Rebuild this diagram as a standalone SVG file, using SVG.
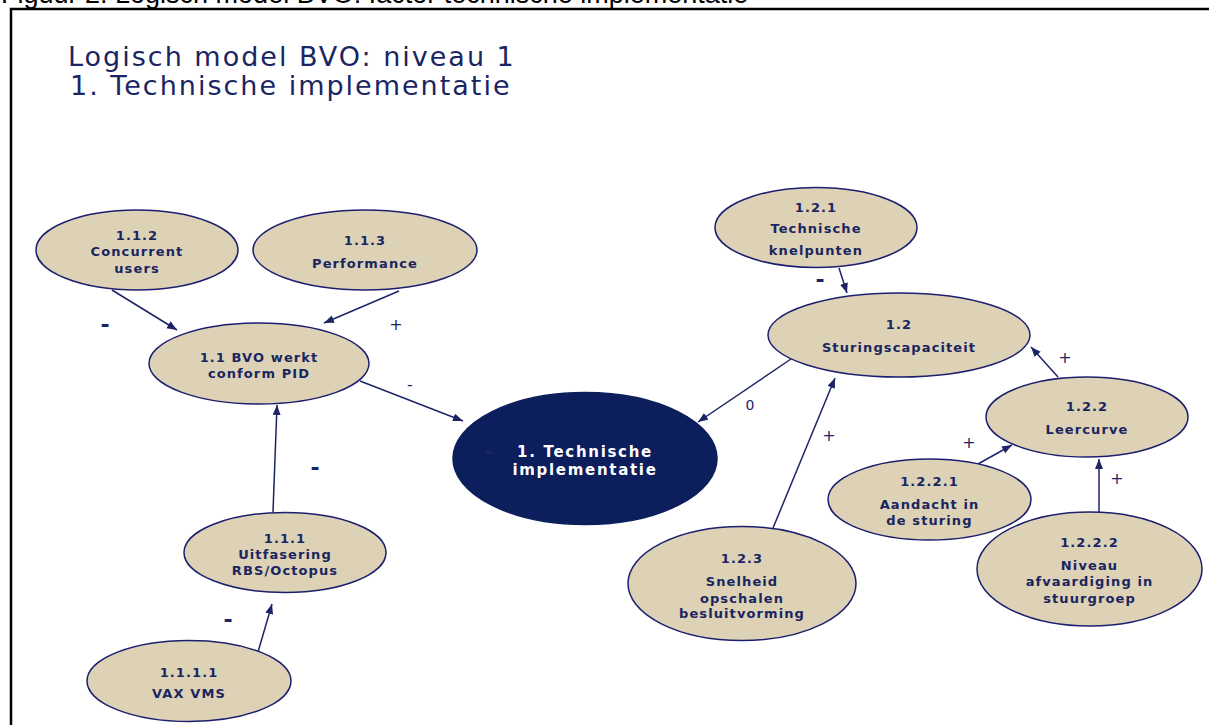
<svg xmlns="http://www.w3.org/2000/svg" width="1209" height="725" viewBox="0 0 1209 725">
  <style>
    .frame { fill: none; stroke: #000; stroke-width: 2.5; }
    .caption { font-family: "Liberation Sans", Arial, sans-serif; font-size: 27px; fill: #000; }
    .title { font-family: "DejaVu Sans", Verdana, sans-serif; font-size: 27px; fill: #1a2563; letter-spacing: 2px; }
    .node ellipse { fill: #ddd2b6; stroke: #1c1f6e; stroke-width: 1.5; }
    .node text { font-family: "DejaVu Sans", Verdana, sans-serif; font-weight: bold; font-size: 13px; fill: #1a2560; text-anchor: middle; letter-spacing: 1.1px; }
    #n1 ellipse { fill: #0c1f5c; stroke: #0c1f5c; }
    #n1 text { fill: #ffffff; font-size: 15px; letter-spacing: 1.7px; }
    .edge { stroke: #1c2466; stroke-width: 1.5; fill: none; marker-end: url(#arrow); }
    .sign { font-family: "DejaVu Sans", Verdana, sans-serif; fill: #1a2563; text-anchor: middle; }
    .minus-b { font-weight: bold; font-size: 22px; }
    .minus { font-size: 16px; }
    .plus { font-size: 16px; }
  </style>
  <defs>
    <marker id="arrow" markerWidth="11" markerHeight="9" refX="10" refY="4" orient="auto" markerUnits="userSpaceOnUse">
      <path d="M0,0 L10,4 L0,8 z" fill="#1c2466"/>
    </marker>
  </defs>

  <rect width="1209" height="725" fill="#ffffff"/>

  <!-- page caption (runs off the top edge) and frame -->
  <text class="caption" x="1" y="3">Figuur 2: Logisch model BVO: factor technische implementatie</text>
  <path class="frame" d="M11,725 L11,9 L1212,9"/>

  <!-- heading -->
  <text class="title" x="68" y="66">Logisch model BVO: niveau 1</text>
  <text class="title" x="70" y="95">1. Technische implementatie</text>

  <!-- connectors -->
  <g id="connectors">
    <line class="edge" x1="112" y1="290" x2="177" y2="330"/>
    <line class="edge" x1="399" y1="291" x2="324" y2="323"/>
    <line class="edge" x1="273" y1="512" x2="277" y2="405"/>
    <line class="edge" x1="258" y1="652" x2="272" y2="604"/>
    <line class="edge" x1="360" y1="381" x2="463" y2="421"/>
    <line class="edge" x1="791" y1="359" x2="698" y2="422"/>
    <line class="edge" x1="839" y1="268" x2="847" y2="293"/>
    <line class="edge" x1="773" y1="528" x2="835" y2="378"/>
    <line class="edge" x1="1058" y1="377" x2="1031" y2="347"/>
    <line class="edge" x1="978" y1="464" x2="1012" y2="445"/>
    <line class="edge" x1="1099" y1="513" x2="1099" y2="459"/>
  </g>

  <!-- nodes -->
  <g id="n112" class="node">
    <ellipse cx="137" cy="250" rx="101" ry="40"/>
    <text x="137" y="240">1.1.2</text>
    <text x="137" y="256">Concurrent</text>
    <text x="137" y="273">users</text>
  </g>
  <g id="n113" class="node">
    <ellipse cx="365" cy="250" rx="112" ry="40"/>
    <text x="365" y="245">1.1.3</text>
    <text x="365" y="268">Performance</text>
  </g>
  <g id="n11" class="node">
    <ellipse cx="259" cy="363.5" rx="110" ry="40.5"/>
    <text x="259" y="362">1.1 BVO werkt</text>
    <text x="259" y="378">conform PID</text>
  </g>
  <g id="n111" class="node">
    <ellipse cx="285" cy="552.5" rx="101" ry="40"/>
    <text x="285" y="543">1.1.1</text>
    <text x="285" y="559">Uitfasering</text>
    <text x="285" y="575">RBS/Octopus</text>
  </g>
  <g id="n1111" class="node">
    <ellipse cx="189" cy="681" rx="102" ry="40.5"/>
    <text x="189" y="677">1.1.1.1</text>
    <text x="189" y="698">VAX VMS</text>
  </g>
  <g id="n1" class="node">
    <ellipse cx="585" cy="458.5" rx="132" ry="66"/>
    <text x="585" y="456.5">1. Technische</text>
    <text x="585" y="475">implementatie</text>
  </g>
  <g id="n121" class="node">
    <ellipse cx="816" cy="227.5" rx="101" ry="40"/>
    <text x="816" y="212">1.2.1</text>
    <text x="816" y="233">Technische</text>
    <text x="816" y="255">knelpunten</text>
  </g>
  <g id="n12" class="node">
    <ellipse cx="899" cy="335" rx="131" ry="42"/>
    <text x="899" y="329">1.2</text>
    <text x="899" y="352">Sturingscapaciteit</text>
  </g>
  <g id="n122" class="node">
    <ellipse cx="1087" cy="417" rx="101" ry="40"/>
    <text x="1087" y="411">1.2.2</text>
    <text x="1087" y="434">Leercurve</text>
  </g>
  <g id="n1221" class="node">
    <ellipse cx="929.5" cy="499.5" rx="101.5" ry="40.5"/>
    <text x="929.5" y="486">1.2.2.1</text>
    <text x="929.5" y="509">Aandacht in</text>
    <text x="929.5" y="525">de sturing</text>
  </g>
  <g id="n1222" class="node">
    <ellipse cx="1089.5" cy="569" rx="112.5" ry="57"/>
    <text x="1089.5" y="547">1.2.2.2</text>
    <text x="1089.5" y="570">Niveau</text>
    <text x="1089.5" y="586">afvaardiging in</text>
    <text x="1089.5" y="603">stuurgroep</text>
  </g>
  <g id="n123" class="node">
    <ellipse cx="742" cy="583.5" rx="114" ry="57"/>
    <text x="742" y="563">1.2.3</text>
    <text x="742" y="586">Snelheid</text>
    <text x="742" y="603">opschalen</text>
    <text x="742" y="618">besluitvorming</text>
  </g>

  <!-- influence signs -->
  <g id="signs">
    <text class="sign minus-b" x="105" y="332">-</text>
    <text class="sign plus" x="396" y="330">+</text>
    <text class="sign minus" x="410" y="390">-</text>
    <text class="sign minus-b" x="489" y="459">-</text>
    <text class="sign minus-b" x="315" y="475">-</text>
    <text class="sign minus-b" x="228" y="627">-</text>
    <text class="sign minus-b" x="820" y="287">-</text>
    <text class="sign plus" x="750" y="410" style="font-size:14px">0</text>
    <text class="sign plus" x="829" y="441">+</text>
    <text class="sign plus" x="1065" y="363">+</text>
    <text class="sign plus" x="969" y="448">+</text>
    <text class="sign plus" x="1117" y="484">+</text>
  </g>
</svg>
